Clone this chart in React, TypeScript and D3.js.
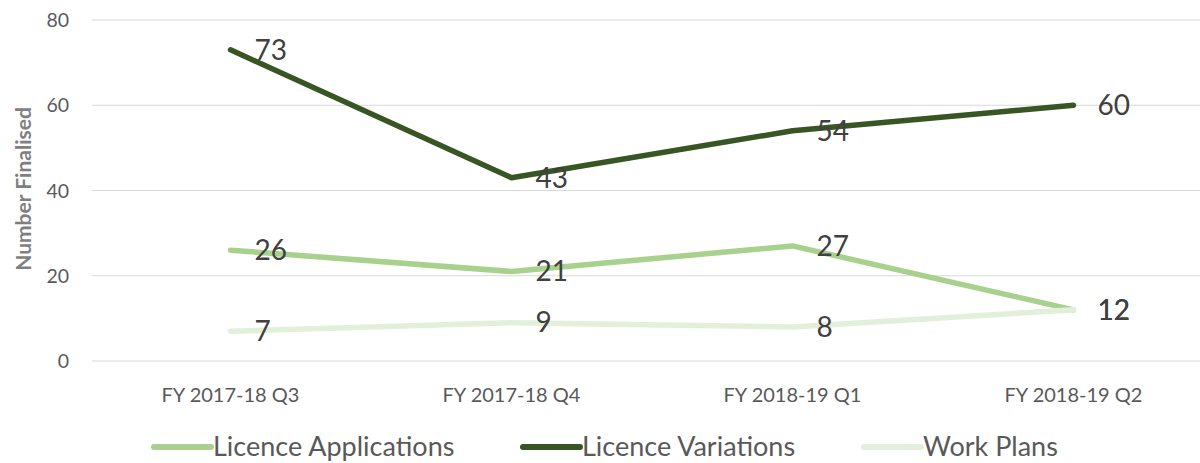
import React from 'react';
import * as d3 from 'd3';

const categories = ['FY 2017-18 Q3', 'FY 2017-18 Q4', 'FY 2018-19 Q1', 'FY 2018-19 Q2'];
const licenceApplications = [26, 21, 27, 12];
const licenceVariations = [73, 43, 54, 60];
const workPlans = [7, 9, 8, 12];
const yTicks = [0, 20, 40, 60, 80];

const series = [
  { name: 'Licence Applications', values: licenceApplications, color: '#a9d18e' },
  { name: 'Licence Variations', values: licenceVariations, color: '#375623' },
  { name: 'Work Plans', values: workPlans, color: '#e2efda' },
];

const W = 1200;
const H = 463;
const FONT = 'Lato, "Open Sans", sans-serif';

export default function App() {
  const x = d3.scaleBand<string>().domain(categories).range([90, 1214]);
  const y = d3.scaleLinear().domain([0, 80]).range([361, 20]);
  const cx = (c: string) => (x(c) || 0) + x.bandwidth() / 2;

  const line = d3
    .line<number>()
    .x((_, i) => cx(categories[i]))
    .y((d) => y(d));

  // legend layout (swatch start x)
  const legendX = [154, 523, 864];

  return (
    <svg width={W} height={H} style={{ position: 'absolute', left: 0, top: 0, background: '#fff' }}>
      {/* gridlines */}
      {yTicks.map((t) => (
        <g key={t}>
          <line x1={92} x2={W} y1={y(t)} y2={y(t)} stroke="#d9d9d9" strokeWidth={1} />
          <text
            x={69}
            y={y(t)}
            dy="0.36em"
            textAnchor="end"
            fontFamily={FONT}
            fontSize={19.5}
            fill="#595959"
          >
            {t}
          </text>
        </g>
      ))}

      {/* axis title */}
      <text
        transform={`translate(31, 189) rotate(-90)`}
        textAnchor="middle"
        fontFamily={FONT}
        fontSize={21}
        fontWeight="bold"
        fill="#7f7f7f"
      >
        Number Finalised
      </text>

      {/* x labels */}
      {categories.map((c) => (
        <text
          key={c}
          x={cx(c)}
          y={395}
          dy="0.35em"
          textAnchor="middle"
          fontFamily={FONT}
          fontSize={20}
          fill="#595959"
        >
          {c}
        </text>
      ))}

      {/* lines */}
      {series.map((s) => (
        <path
          key={s.name}
          d={line(s.values) || ''}
          fill="none"
          stroke={s.color}
          strokeWidth={5.5}
          strokeLinecap="round"
          strokeLinejoin="round"
        />
      ))}

      {/* data labels */}
      {series.map((s) =>
        s.values.map((v, i) => (
          <text
            key={s.name + i}
            x={cx(categories[i]) + 24}
            y={y(v)}
            dy="0.35em"
            fontFamily={FONT}
            fontSize={28}
            fill="#404040"
          >
            {v}
          </text>
        ))
      )}

      {/* legend */}
      {series.map((s, i) => (
        <g key={s.name} transform={`translate(${legendX[i]}, 447)`}>
          <line x1={0} x2={57} y1={0} y2={0} stroke={s.color} strokeWidth={6} strokeLinecap="round" />
          <text x={59} y={0} dy="0.35em" fontFamily={FONT} fontSize={27} fill="#595959">
            {s.name}
          </text>
        </g>
      ))}
    </svg>
  );
}
